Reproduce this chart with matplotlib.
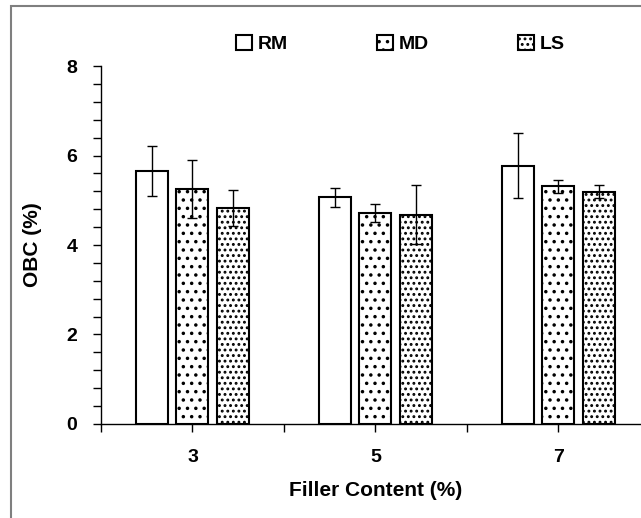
import numpy as np
import matplotlib.pyplot as plt
from matplotlib.patches import Rectangle

plt.rcParams['font.family'] = ['Liberation Sans', 'DejaVu Sans']
plt.rcParams['font.weight'] = 'bold'
plt.rcParams['hatch.linewidth'] = 1.3

fillers = ['3', '5', '7']
series = ['RM', 'MD', 'LS']
obc = {
    'RM': [5.65, 5.07, 5.77],
    'MD': [5.25, 4.72, 5.31],
    'LS': [4.82, 4.68, 5.19],
}
obc_err = {
    'RM': [0.56, 0.21, 0.73],
    'MD': [0.65, 0.20, 0.14],
    'LS': [0.40, 0.66, 0.15],
}
hatches = {'RM': '', 'MD': '..', 'LS': '...'}

fig = plt.figure(figsize=(6.41, 5.18), dpi=100)
ax = fig.add_axes([0.1576, 0.1815, 0.856, 0.691])

# grey frame of the chart area (cropped on the right and bottom)
fig.patches.append(Rectangle((11 / 641, -0.1), 1.2, 1 - 6 / 518 + 0.1,
                             transform=fig.transFigure, fill=False,
                             edgecolor='#7f7f7f', linewidth=1.5))

x = np.arange(len(fillers))
width = 0.175
offset = 0.221
for i, s in enumerate(series):
    ax.bar(x + (i - 1) * offset, obc[s], width, yerr=obc_err[s],
           color='white', edgecolor='black', linewidth=1.5,
           hatch=hatches[s], label=s, capsize=3.6,
           error_kw={'elinewidth': 1, 'capthick': 1, 'ecolor': 'black'})

ax.set_xlim(-0.5, 2.5)
ax.set_ylim(0, 8)
ax.set_yticks([0, 2, 4, 6, 8])
ax.set_yticks(np.arange(0, 8.01, 0.4), minor=True)
ax.set_xticks(x)
ax.set_xticklabels(fillers)
ax.set_xticks(np.arange(-0.5, 2.6, 0.5), minor=True)

ax.tick_params(axis='y', which='both', direction='out', length=6, width=1,
               labelsize=14, pad=11)
ax.tick_params(axis='x', which='both', direction='out', length=6, width=1,
               labelsize=14, pad=12)
for lab in ax.get_xticklabels() + ax.get_yticklabels():
    lab.set_fontweight('bold')

ax.spines['top'].set_visible(False)
ax.spines['right'].set_visible(False)
ax.spines['left'].set_linewidth(1)
ax.spines['bottom'].set_linewidth(1)

ax.set_ylabel('OBC (%)', fontsize=15, fontweight='bold', labelpad=18)
ax.set_xlabel('Filler Content (%)', fontsize=15, fontweight='bold', labelpad=11)

leg = ax.legend(loc='upper left', bbox_to_anchor=(0.215, 1.135), ncol=3,
                frameon=False, handlelength=0.8,
                handleheight=0.8, handletextpad=0.3, columnspacing=4.6,
                prop={'size': 14, 'weight': 'bold'})

fig.savefig('out.png', dpi=100)
